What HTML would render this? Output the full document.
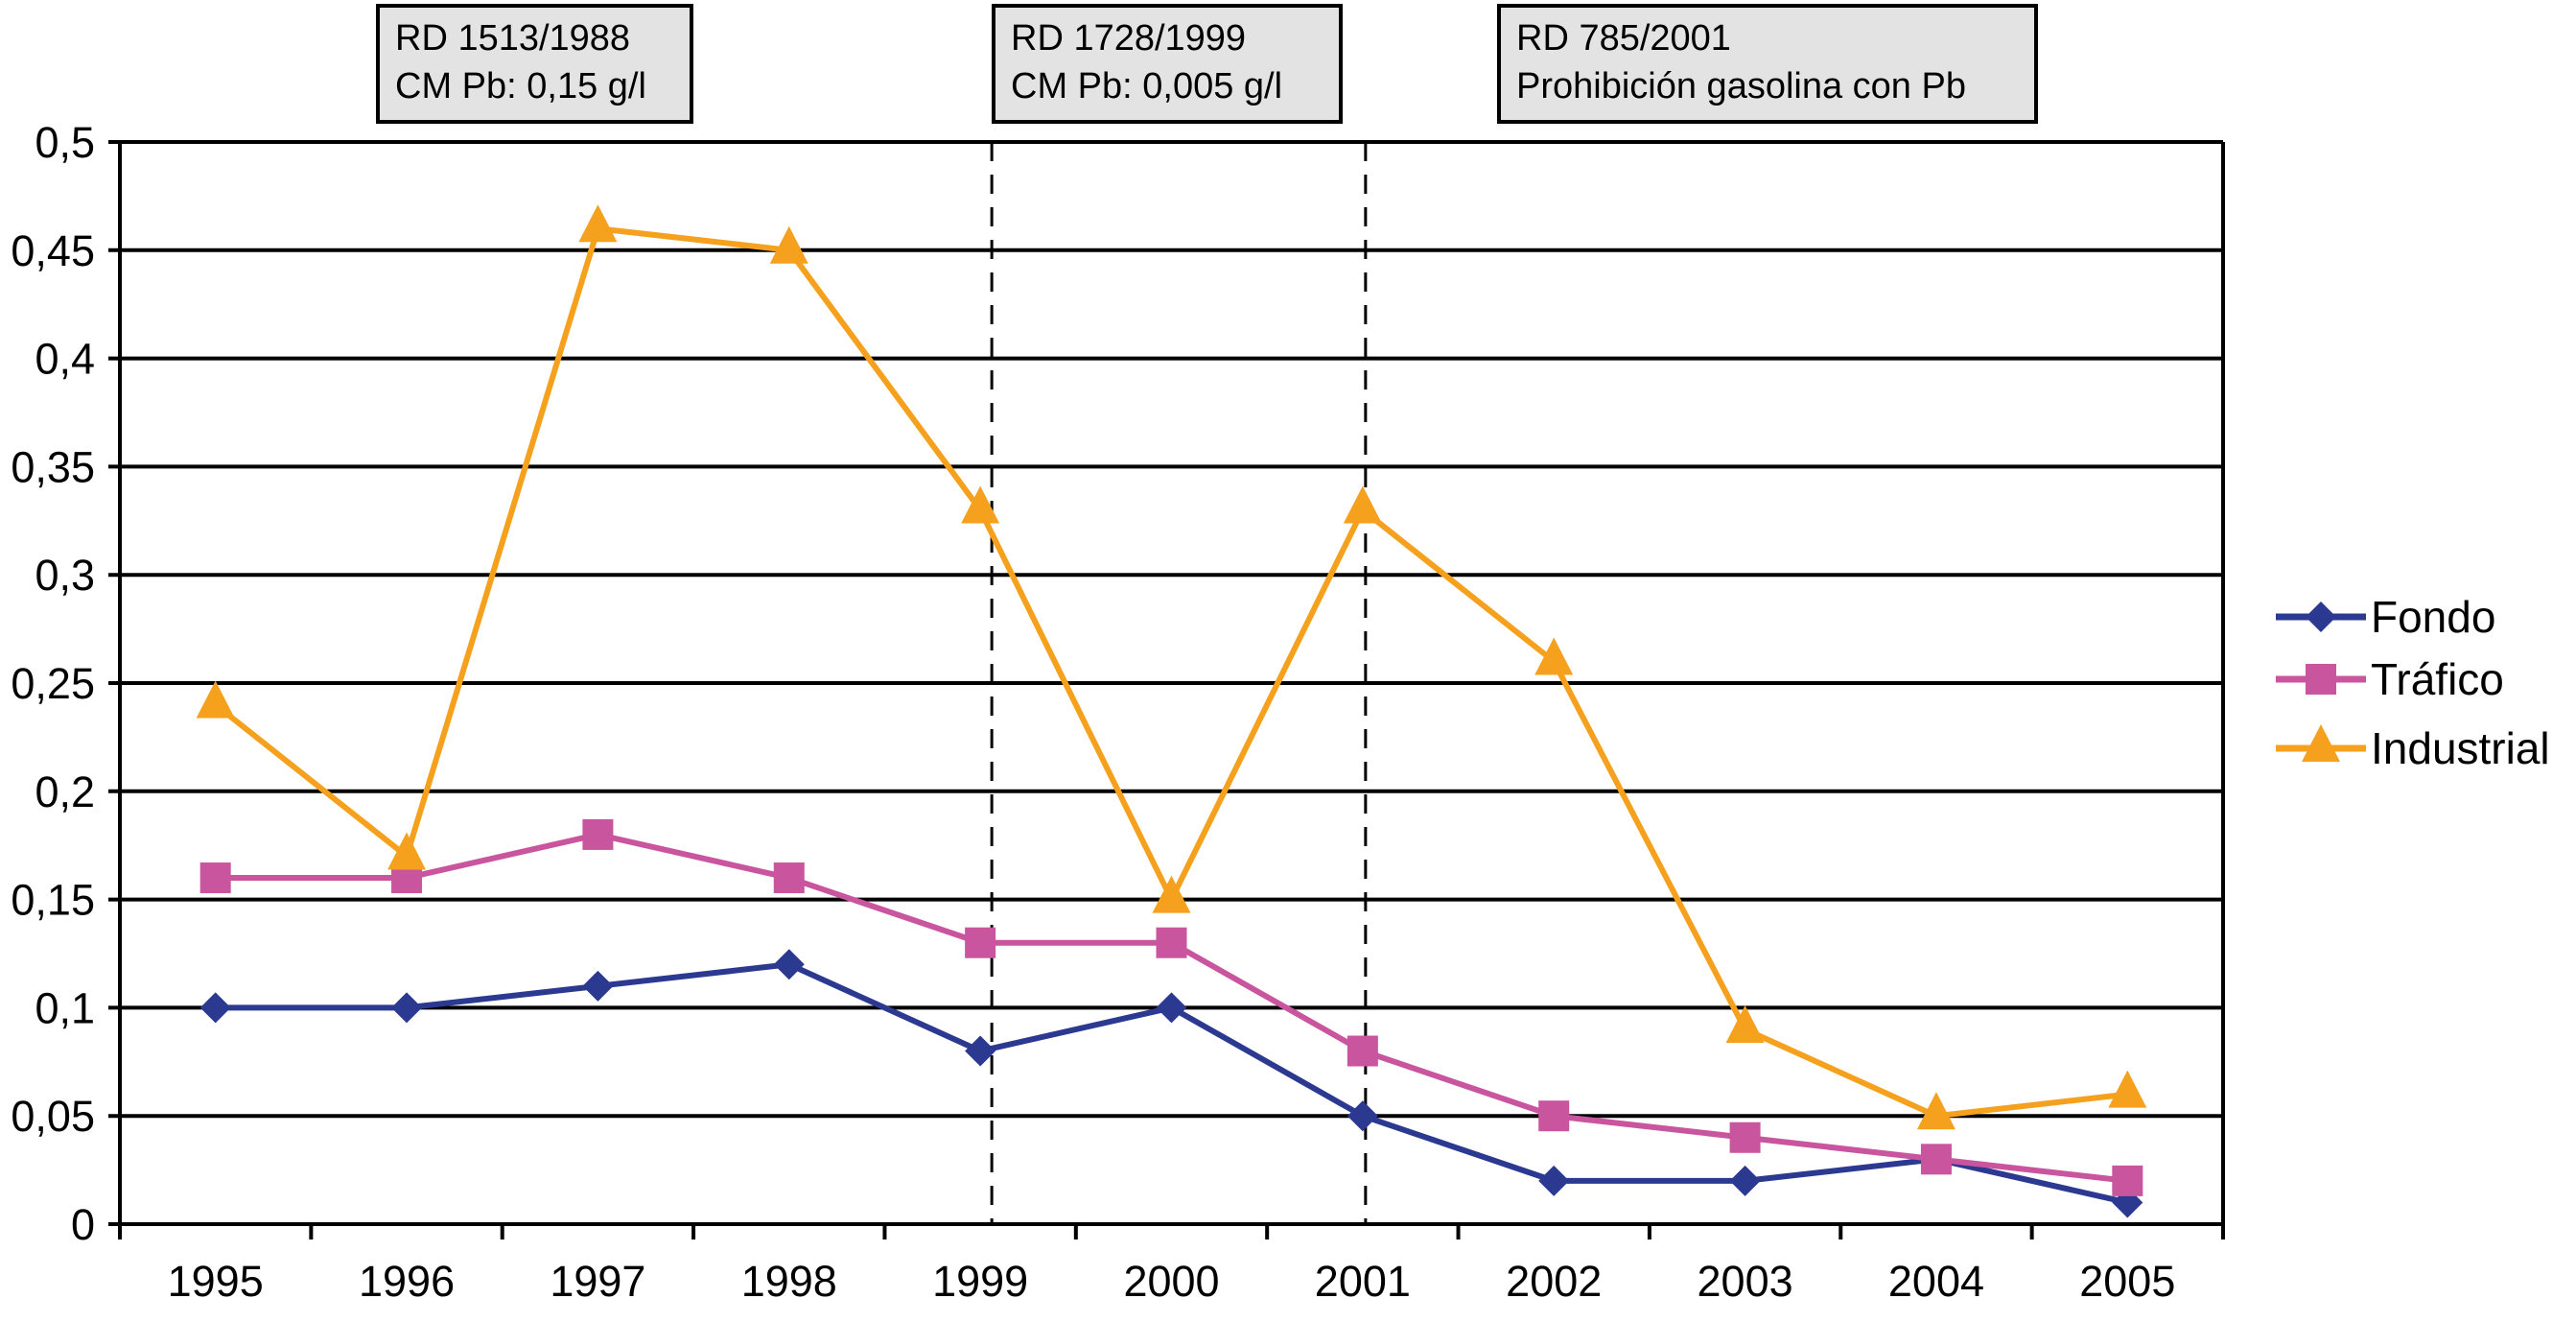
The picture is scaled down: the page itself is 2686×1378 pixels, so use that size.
<!DOCTYPE html>
<html><head><meta charset="utf-8"><style>
html,body{margin:0;padding:0;background:#fff;}
svg{display:block;font-family:"Liberation Sans",Arial,sans-serif;}
</style></head><body>
<svg id="chart" width="2686" height="1378" viewBox="0 0 2686 1378" xmlns="http://www.w3.org/2000/svg">
<g id="boxes"></g>
<g id="grid"></g>
<g id="series"></g>
<g id="legend"></g>
</svg>
<script>
const categories=["1995","1996","1997","1998","1999","2000","2001","2002","2003","2004","2005"];
const fondo=[0.10,0.10,0.11,0.12,0.08,0.10,0.05,0.02,0.02,0.03,0.01];
const trafico=[0.16,0.16,0.18,0.16,0.13,0.13,0.08,0.05,0.04,0.03,0.02];
const industrial=[0.24,0.17,0.46,0.45,0.33,0.15,0.33,0.26,0.09,0.05,0.06];
const yTicks=[0,0.05,0.1,0.15,0.2,0.25,0.3,0.35,0.4,0.45,0.5];
const yTickLabels=["0","0,05","0,1","0,15","0,2","0,25","0,3","0,35","0,4","0,45","0,5"];
const markerYears=["1999","2001"];
const seriesNames=["Fondo","Tráfico","Industrial"];

const NS="http://www.w3.org/2000/svg";
const L=125,R=2318,T=148,B=1276,YMAX=0.5;
const step=(R-L)/categories.length;
function xPos(i){return L+step*(i+0.5);}
function yPos(v){return B-(v/YMAX)*(B-T);}
function mk(tag,attrs,parent){const e=document.createElementNS(NS,tag);for(const k in attrs)e.setAttribute(k,attrs[k]);parent.appendChild(e);return e;}

const grid=document.getElementById('grid');
yTicks.forEach((v,i)=>{
  const y=yPos(v);
  const gl=mk('line',{x1:L-12,x2:R,y1:y,y2:y,stroke:'#000','stroke-width':4},grid);
  
  
  const t=mk('text',{x:L-26,y:y+16,'text-anchor':'end','font-size':45,fill:'#000'},grid);
  t.textContent=yTickLabels[i];
  
  
});
const ya=mk('line',{x1:L,x2:L,y1:T,y2:B+14,stroke:'#000','stroke-width':4},grid);


const rb=mk('line',{x1:R,x2:R,y1:T,y2:B,stroke:'#000','stroke-width':4},grid);


for(let i=0;i<=categories.length;i++){
  const x=L+step*i;
  const tk=mk('line',{x1:x,x2:x,y1:B,y2:B+16,stroke:'#000','stroke-width':4},grid);
  
  
}
categories.forEach((c,i)=>{
  const t=mk('text',{x:xPos(i),y:B+75,'text-anchor':'middle','font-size':45,fill:'#000'},grid);
  t.textContent=c;
  
  
});
const dashOffsets=[12,3];
markerYears.forEach((yr,k)=>{
  const x=xPos(categories.indexOf(yr))+dashOffsets[k];
  const d=mk('line',{x1:x,x2:x,y1:T,y2:B,stroke:'#000','stroke-width':3,'stroke-dasharray':'20,14'},grid);
  
  
});

const boxes=document.getElementById('boxes');
const boxData=[[394,721,["RD 1513/1988","CM Pb: 0,15 g/l"]],[1036,1398,["RD 1728/1999","CM Pb: 0,005 g/l"]],[1563,2123,["RD 785/2001","Prohibición gasolina con Pb"]]];
boxData.forEach((b,i)=>{
  const g=mk('g',{},boxes);
  
  
  mk('rect',{x:b[0],y:6,width:b[1]-b[0],height:121,fill:'#e3e3e3',stroke:'#000','stroke-width':4},g);
  b[2].forEach((s,j)=>{const t=mk('text',{x:b[0]+18,y:52+j*50,'font-size':38,fill:'#000'},g);t.textContent=s;});
});

const series=document.getElementById('series');
function marker(kind,x,y,color,parent){
  if(kind==='d') return mk('polygon',{points:`${x},${y-16} ${x+16},${y} ${x},${y+16} ${x-16},${y}`,fill:color},parent);
  if(kind==='s') return mk('rect',{x:x-16,y:y-16,width:32,height:32,fill:color},parent);
  return mk('polygon',{points:`${x},${y-25} ${x+20},${y+14} ${x-20},${y+14}`,fill:color},parent);
}
const defs=[[fondo,'#2b3990','d','fondo'],[trafico,'#c9559f','s','trafico'],[industrial,'#f6a11e','t','industrial']];
defs.forEach(([vals,col,kind,name])=>{
  const g=mk('g',{},series);
  
  
  const pts=vals.map((v,i)=>xPos(i)+','+yPos(v)).join(' ');
  mk('polyline',{points:pts,fill:'none',stroke:col,'stroke-width':6,'stroke-linejoin':'round'},g);
  vals.forEach((v,i)=>{
    const m=marker(kind,xPos(i),yPos(v),col,g);
    
    
  });
});

const legend=document.getElementById('legend');
const rows=[643,708,780];
defs.forEach(([vals,col,kind,name],i)=>{
  const g=mk('g',{},legend);
  
  
  const y=rows[i];
  mk('line',{x1:2373,x2:2467,y1:y,y2:y,stroke:col,'stroke-width':7},g);
  marker(kind,2420,y,col,g);
  const t=mk('text',{x:2472,y:y+16,'font-size':46,fill:'#000'},g);
  t.textContent=seriesNames[i];
});
</script>
</body></html>
